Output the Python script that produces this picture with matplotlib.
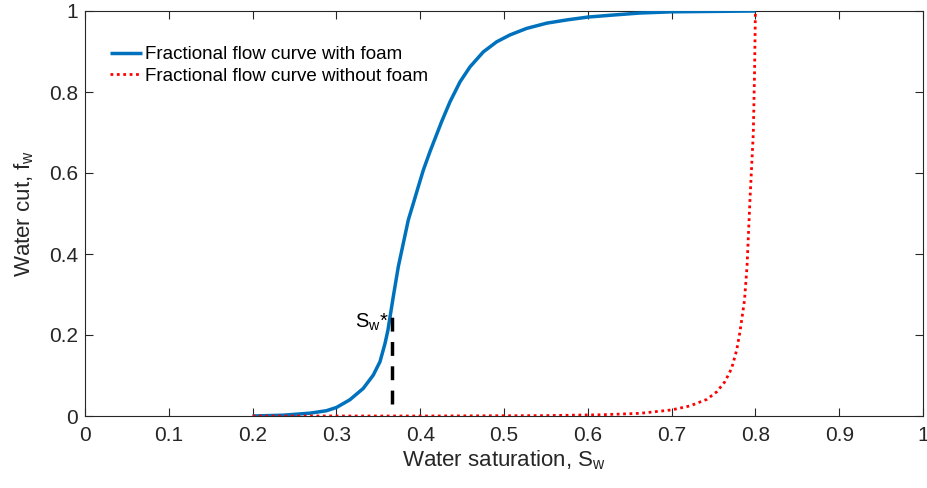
import matplotlib
matplotlib.use("Agg")
import matplotlib.pyplot as plt

plt.rcParams['font.family'] = ['Liberation Sans', 'DejaVu Sans']
plt.rcParams['mathtext.fontset'] = 'custom'
plt.rcParams['mathtext.rm'] = 'Liberation Sans'
plt.rcParams['mathtext.it'] = 'Liberation Sans'

# Fractional flow curve with foam
sw_foam = [0.20, 0.2366, 0.2685, 0.288, 0.300, 0.316, 0.332, 0.344, 0.352, 0.358,
           0.3615, 0.3679, 0.3739, 0.3798, 0.3858, 0.3918, 0.3977, 0.4037, 0.4117,
           0.4256, 0.4356, 0.4475, 0.4594, 0.4753, 0.4913, 0.5072, 0.527, 0.551,
           0.575, 0.600, 0.630, 0.662, 0.700, 0.750, 0.800]
fw_foam = [0.0, 0.002, 0.007, 0.013, 0.021, 0.040, 0.068, 0.101, 0.134, 0.179,
           0.212, 0.295, 0.369, 0.426, 0.484, 0.525, 0.566, 0.607, 0.653,
           0.727, 0.776, 0.825, 0.862, 0.899, 0.924, 0.941, 0.957, 0.970,
           0.978, 0.985, 0.990, 0.995, 0.998, 0.999, 1.0]

# Fractional flow curve without foam
sw_nofoam = [0.20, 0.40, 0.55, 0.615, 0.6623, 0.700, 0.722, 0.742, 0.754, 0.7637,
             0.7717, 0.7777, 0.7816, 0.787, 0.790, 0.7935, 0.7975, 0.799, 0.800]
fw_nofoam = [0.0, 0.0, 0.001, 0.003, 0.0066, 0.015, 0.025, 0.041, 0.060, 0.085,
             0.118, 0.163, 0.208, 0.286, 0.369, 0.533, 0.698, 0.850, 1.0]

# Shock front saturation marker
sw_star = 0.366
fw_star_range = [0.03, 0.255]

xticks = [0, 0.1, 0.2, 0.3, 0.4, 0.5, 0.6, 0.7, 0.8, 0.9, 1]
xticklabels = ['0', '0.1', '0.2', '0.3', '0.4', '0.5', '0.6', '0.7', '0.8', '0.9', '1']
yticks = [0, 0.2, 0.4, 0.6, 0.8, 1]
yticklabels = ['0', '0.2', '0.4', '0.6', '0.8', '1']

fig = plt.figure(figsize=(9.28, 4.88), dpi=100)
ax = fig.add_axes([85/928, 1-416/488, (923-85)/928, (416-11)/488])

ax.plot(sw_foam, fw_foam, color='#0072BD', lw=2.5, solid_capstyle='butt',
        solid_joinstyle='round', label='Fractional flow curve with foam', zorder=3)
ax.plot(sw_nofoam, fw_nofoam, color='#FF0000', lw=2.0, dashes=(1, 1.3),
        dash_capstyle='butt', label='Fractional flow curve without foam', zorder=4)
ax.plot([sw_star, sw_star], fw_star_range, color='black', lw=2.5,
        dashes=(4, 3), dash_capstyle='butt', zorder=5)
ax.text(sw_star - 0.003, 0.232, r'S$_\mathregular{w}$*', fontsize=14.5,
        ha='right', va='center', color='black')

ax.set_xlim(0, 1)
ax.set_ylim(0, 1)
ax.set_xticks(xticks)
ax.set_xticklabels(xticklabels)
ax.set_yticks(yticks)
ax.set_yticklabels(yticklabels)

axc = '#262626'
for s in ax.spines.values():
    s.set_color(axc)
    s.set_linewidth(0.8)
ax.tick_params(direction='in', length=6, width=0.8, colors=axc, labelsize=15,
               top=True, right=True, pad=5)
ax.tick_params(axis='x', pad=7)

ax.set_xlabel(r'Water saturation, S$_\mathregular{w}$', fontsize=16, color=axc, labelpad=3)
ax.set_ylabel(r'Water cut, f$_\mathregular{w}$', fontsize=16, color=axc, labelpad=9)

leg = ax.legend(loc='upper left', frameon=False, fontsize=13.5, handlelength=1.7,
                handletextpad=0.15, labelspacing=0.25, bbox_to_anchor=(0.0095, 0.955))

fig.savefig('out.png', dpi=100)
